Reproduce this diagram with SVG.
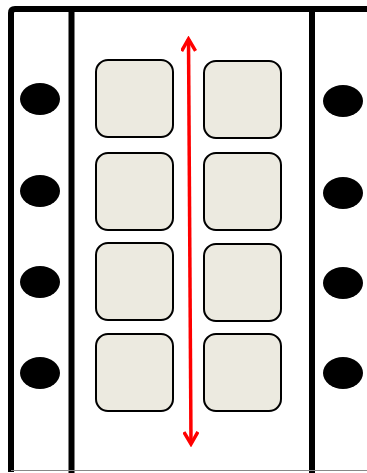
<svg xmlns="http://www.w3.org/2000/svg" width="367" height="473" viewBox="0 0 367 473">
<defs>
<style>
.frame{fill:none;stroke:#000;stroke-width:6}
.hole{fill:#000}
.cell{fill:#ECEAE0;stroke:#000;stroke-width:2}
.arrow{stroke:#FF0000;stroke-width:3.5;fill:none}
</style>
<marker id="head" viewBox="0 0 16 16" refX="13" refY="8" markerWidth="16" markerHeight="16" markerUnits="userSpaceOnUse" orient="auto-start-reverse">
<path d="M1,1 L13,8 L1,15" fill="none" stroke="#FF0000" stroke-width="3.5"/>
</marker>
</defs>
<rect x="0" y="0" width="367" height="473" fill="#fff"/>
<g id="frame">
<path class="frame" d="M11,472 L11,13 Q11,9 15,9 L370,9"/>
<line class="frame" x1="71.5" y1="9" x2="71.5" y2="473"/>
<line class="frame" x1="312" y1="9" x2="312" y2="473"/>
<line x1="11" y1="470.5" x2="370" y2="470.5" stroke="#888" stroke-width="1"/>
</g>
<g id="holes-left">
<ellipse class="hole" cx="40" cy="99" rx="20" ry="16"/>
<ellipse class="hole" cx="40" cy="191" rx="20" ry="16"/>
<ellipse class="hole" cx="40" cy="282" rx="20" ry="16"/>
<ellipse class="hole" cx="40" cy="373" rx="20" ry="16"/>
</g>
<g id="holes-right">
<ellipse class="hole" cx="343" cy="101" rx="20" ry="16"/>
<ellipse class="hole" cx="343" cy="193" rx="20" ry="16"/>
<ellipse class="hole" cx="343" cy="283" rx="20" ry="16"/>
<ellipse class="hole" cx="343" cy="373" rx="20" ry="16"/>
</g>
<g id="cell-l1"><rect class="cell" x="96" y="60" width="77" height="77" rx="12"/></g>
<g id="cell-l2"><rect class="cell" x="96" y="153" width="77" height="77" rx="12"/></g>
<g id="cell-l3"><rect class="cell" x="96" y="243" width="77" height="77" rx="12"/></g>
<g id="cell-l4"><rect class="cell" x="96" y="334" width="77" height="77" rx="12"/></g>
<g id="cell-r1"><rect class="cell" x="204" y="61" width="77" height="77" rx="12"/></g>
<g id="cell-r2"><rect class="cell" x="204" y="153" width="77" height="77" rx="12"/></g>
<g id="cell-r3"><rect class="cell" x="204" y="244" width="77" height="77" rx="12"/></g>
<g id="cell-r4"><rect class="cell" x="204" y="334" width="77" height="77" rx="12"/></g>
<g id="connectors">
<line class="arrow" x1="188.5" y1="39" x2="191" y2="444" marker-start="url(#head)" marker-end="url(#head)"/>
</g>
</svg>
